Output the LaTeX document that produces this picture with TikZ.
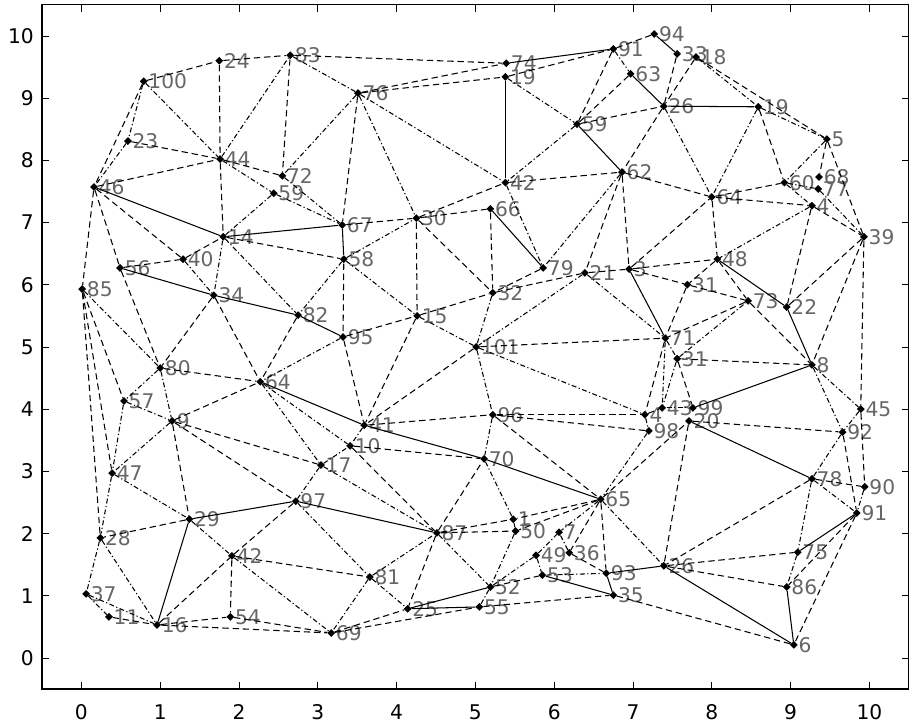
\documentclass[tikz,border=0pt]{standalone}
\usepackage{fontspec}
\setmainfont{DejaVu Sans}
\usetikzlibrary{shapes.geometric}
\newcommand{\lblfont}{\fontsize{11.5}{13}\selectfont}

\tikzset{
  pt/.style={diamond, fill=black, inner sep=0pt, minimum size=4.6pt, label distance=0.4pt},
  lbl/.style={text=black!60, inner sep=0pt, font=\lblfont},
  ticklbl/.style={inner sep=0pt, font=\lblfont},
  sol/.style={line width=0.6pt},
  dsh/.style={line width=0.6pt, dash pattern=on 3.6pt off 2.2pt},
  ddt/.style={line width=0.6pt, dash pattern=on 2.8pt off 1.4pt on 0.7pt off 1.4pt}
}

\begin{document}
\begin{tikzpicture}[x=1.576cm, y=1.244cm]

\useasboundingbox (-1.033,-1.047) rectangle (10.553,10.577);

% axes box and ticks
\draw[line width=0.7pt] (-0.5,-0.5) rectangle (10.5,10.5);
\foreach \i in {0,...,10} {
  \draw (\i,-0.5) -- ++(0pt,4pt);
  \draw (\i,10.5) -- ++(0pt,-4pt);
  \draw (-0.5,\i) -- ++(4pt,0pt);
  \draw (10.5,\i) -- ++(-4pt,0pt);
  \node[ticklbl, anchor=north] (xt\i) at ([yshift=-8.5pt]\i,-0.5) {\i};
  \node[ticklbl, anchor=east] (yt\i) at ([xshift=-4.5pt]-0.5,\i) {\i};
}

% sensor nodes
\node[pt, label={[lbl]0:100}] (n100) at (0.79,9.27) {};
\node[pt, label={[lbl]0:24}] (n24) at (1.75,9.60) {};
\node[pt, label={[lbl]0:83}] (n83) at (2.65,9.69) {};
\node[pt, label={[lbl]0:76}] (n76) at (3.51,9.08) {};
\node[pt, label={[lbl]0:74}] (n74) at (5.39,9.56) {};
\node[pt, label={[lbl]0:19}] (n19t) at (5.38,9.34) {};
\node[pt, label={[lbl]0:91}] (n91t) at (6.75,9.79) {};
\node[pt, label={[lbl]0:94}] (n94) at (7.27,10.03) {};
\node[pt, label={[lbl]0:33}] (n33) at (7.56,9.71) {};
\node[pt, label={[lbl]0:18}] (n18) at (7.80,9.66) {};
\node[pt, label={[lbl]0:63}] (n63) at (6.97,9.39) {};
\node[pt, label={[lbl]0:26}] (n26) at (7.39,8.87) {};
\node[pt, label={[lbl]0:59}] (n59) at (6.29,8.58) {};
\node[pt, label={[lbl]0:42}] (n42) at (5.38,7.64) {};
\node[pt, label={[lbl]0:62}] (n62) at (6.86,7.81) {};
\node[pt, label={[lbl]0:66}] (n66) at (5.19,7.22) {};
\node[pt, label={[lbl]0:19}] (n19) at (8.59,8.86) {};
\node[pt, label={[lbl]0:5}] (n5) at (9.46,8.34) {};
\node[pt, label={[lbl]0:60}] (n60) at (8.92,7.64) {};
\node[pt, label={[lbl]0:68}] (n68) at (9.36,7.73) {};
\node[pt, label={[lbl]0:77}] (n77) at (9.35,7.54) {};
\node[pt, label={[lbl]0:4}] (n4) at (9.27,7.27) {};
\node[pt, label={[lbl]0:39}] (n39) at (9.93,6.77) {};
\node[pt, label={[lbl]0:64}] (n64) at (8.00,7.41) {};
\node[pt, label={[lbl]0:46}] (n46) at (0.16,7.57) {};
\node[pt, label={[lbl]0:23}] (n23) at (0.59,8.31) {};
\node[pt, label={[lbl]0:44}] (n44) at (1.76,8.02) {};
\node[pt, label={[lbl]0:14}] (n14) at (1.80,6.77) {};
\node[pt, label={[lbl]0:72}] (n72) at (2.55,7.75) {};
\node[pt, label={[lbl]0:59}] (n59b) at (2.44,7.47) {};
\node[pt, label={[lbl]0:67}] (n67) at (3.31,6.96) {};
\node[pt, label={[lbl]0:30}] (n30) at (4.25,7.07) {};
\node[pt, label={[lbl]0:56}] (n56) at (0.49,6.27) {};
\node[pt, label={[lbl]0:40}] (n40) at (1.29,6.41) {};
\node[pt, label={[lbl]0:85}] (n85) at (0.01,5.93) {};
\node[pt, label={[lbl]0:34}] (n34) at (1.68,5.83) {};
\node[pt, label={[lbl]0:80}] (n80) at (1.00,4.66) {};
\node[pt, label={[lbl]0:57}] (n57) at (0.54,4.13) {};
\node[pt, label={[lbl]0:9}] (n9) at (1.15,3.81) {};
\node[pt, label={[lbl]0:64}] (n64b) at (2.27,4.44) {};
\node[pt, label={[lbl]0:58}] (n58) at (3.33,6.41) {};
\node[pt, label={[lbl]0:82}] (n82) at (2.75,5.51) {};
\node[pt, label={[lbl]0:95}] (n95) at (3.32,5.16) {};
\node[pt, label={[lbl]0:15}] (n15) at (4.26,5.50) {};
\node[pt, label={[lbl]0:41}] (n41) at (3.59,3.74) {};
\node[pt, label={[lbl]0:10}] (n10) at (3.41,3.41) {};
\node[pt, label={[lbl]0:17}] (n17) at (3.04,3.10) {};
\node[pt, label={[lbl]0:79}] (n79) at (5.86,6.27) {};
\node[pt, label={[lbl]0:21}] (n21) at (6.39,6.19) {};
\node[pt, label={[lbl]0:3}] (n3) at (6.95,6.25) {};
\node[pt, label={[lbl]0:32}] (n32) at (5.22,5.87) {};
\node[pt, label={[lbl]0:101}] (n101) at (5.01,5.00) {};
\node[pt, label={[lbl]0:71}] (n71) at (7.41,5.14) {};
\node[pt, label={[lbl]0:31}] (n31b) at (7.56,4.81) {};
\node[pt, label={[lbl]0:96}] (n96) at (5.22,3.91) {};
\node[pt, label={[lbl]0:4}] (n4b) at (7.15,3.91) {};
\node[pt, label={[lbl]0:43}] (n43) at (7.37,4.02) {};
\node[pt, label={[lbl]0:98}] (n98) at (7.20,3.65) {};
\node[pt, label={[lbl]0:70}] (n70) at (5.11,3.20) {};
\node[pt, label={[lbl]0:48}] (n48) at (8.07,6.41) {};
\node[pt, label={[lbl]0:31}] (n31) at (7.69,6.00) {};
\node[pt, label={[lbl]0:73}] (n73) at (8.46,5.74) {};
\node[pt, label={[lbl]0:22}] (n22) at (8.95,5.64) {};
\node[pt, label={[lbl]0:8}] (n8) at (9.27,4.71) {};
\node[pt, label={[lbl]0:45}] (n45) at (9.89,4.00) {};
\node[pt, label={[lbl]0:92}] (n92) at (9.66,3.63) {};
\node[pt, label={[lbl]0:99}] (n99) at (7.76,4.02) {};
\node[pt, label={[lbl]0:20}] (n20) at (7.71,3.81) {};
\node[pt, label={[lbl]0:47}] (n47) at (0.39,2.97) {};
\node[pt, label={[lbl]0:29}] (n29) at (1.37,2.23) {};
\node[pt, label={[lbl]0:28}] (n28) at (0.24,1.93) {};
\node[pt, label={[lbl]0:42}] (n42b) at (1.91,1.64) {};
\node[pt, label={[lbl]0:37}] (n37) at (0.06,1.03) {};
\node[pt, label={[lbl]0:11}] (n11) at (0.35,0.66) {};
\node[pt, label={[lbl]0:16}] (n16) at (0.96,0.53) {};
\node[pt, label={[lbl]0:54}] (n54) at (1.89,0.66) {};
\node[pt, label={[lbl]0:97}] (n97) at (2.72,2.52) {};
\node[pt, label={[lbl]0:87}] (n87) at (4.51,2.01) {};
\node[pt, label={[lbl]0:81}] (n81) at (3.66,1.30) {};
\node[pt, label={[lbl]0:69}] (n69) at (3.17,0.40) {};
\node[pt, label={[lbl]0:25}] (n25) at (4.14,0.79) {};
\node[pt, label={[lbl]0:55}] (n55) at (5.05,0.82) {};
\node[pt, label={[lbl]0:65}] (n65) at (6.59,2.55) {};
\node[pt, label={[lbl]0:1}] (n1) at (5.48,2.23) {};
\node[pt, label={[lbl]0:50}] (n50) at (5.51,2.04) {};
\node[pt, label={[lbl]0:7}] (n7) at (6.06,2.02) {};
\node[pt, label={[lbl]0:36}] (n36) at (6.19,1.69) {};
\node[pt, label={[lbl]0:49}] (n49) at (5.77,1.65) {};
\node[pt, label={[lbl]0:53}] (n53) at (5.85,1.33) {};
\node[pt, label={[lbl]0:52}] (n52) at (5.19,1.14) {};
\node[pt, label={[lbl]0:93}] (n93) at (6.66,1.36) {};
\node[pt, label={[lbl]0:35}] (n35) at (6.75,1.01) {};
\node[pt, label={[lbl]0:26}] (n26b) at (7.39,1.48) {};
\node[pt, label={[lbl]0:78}] (n78) at (9.27,2.88) {};
\node[pt, label={[lbl]0:90}] (n90) at (9.94,2.75) {};
\node[pt, label={[lbl]0:91}] (n91) at (9.84,2.33) {};
\node[pt, label={[lbl]0:75}] (n75) at (9.09,1.70) {};
\node[pt, label={[lbl]0:86}] (n86) at (8.95,1.14) {};
\node[pt, label={[lbl]0:6}] (n6) at (9.04,0.21) {};

% solid links
\draw[sol] (n46) -- (n14);  \draw[sol] (n14) -- (n67);  \draw[sol] (n67) -- (n58);
\draw[sol] (n19t) -- (n42); \draw[sol] (n94) -- (n33);  \draw[sol] (n63) -- (n26);
\draw[sol] (n26) -- (n19);  \draw[sol] (n59) -- (n62);  \draw[sol] (n66) -- (n79);
\draw[sol] (n74) -- (n91t); \draw[sol] (n56) -- (n34);  \draw[sol] (n34) -- (n82);
\draw[sol] (n82) -- (n95);  \draw[sol] (n64b) -- (n41); \draw[sol] (n41) -- (n70);
\draw[sol] (n70) -- (n65);  \draw[sol] (n29) -- (n97);  \draw[sol] (n97) -- (n87);
\draw[sol] (n29) -- (n16);  \draw[sol] (n25) -- (n52);  \draw[sol] (n25) -- (n55);
\draw[sol] (n53) -- (n35);  \draw[sol] (n93) -- (n35);  \draw[sol] (n93) -- (n26b);
\draw[sol] (n26b) -- (n6);  \draw[sol] (n86) -- (n6);   \draw[sol] (n99) -- (n8);
\draw[sol] (n22) -- (n8);   \draw[sol] (n48) -- (n22);  \draw[sol] (n20) -- (n78);
\draw[sol] (n3) -- (n71);   \draw[sol] (n91) -- (n75);

% dashed links
\draw[dsh] (n100) -- (n24); \draw[dsh] (n100) -- (n46); \draw[dsh] (n24) -- (n83);
\draw[dsh] (n24) -- (n44);  \draw[dsh] (n44) -- (n14);  \draw[dsh] (n23) -- (n44);
\draw[dsh] (n46) -- (n44);  \draw[dsh] (n46) -- (n85);  \draw[dsh] (n46) -- (n56);
\draw[dsh] (n46) -- (n40);  \draw[dsh] (n44) -- (n72);  \draw[dsh] (n83) -- (n72);
\draw[dsh] (n83) -- (n74);  \draw[dsh] (n76) -- (n74);  \draw[dsh] (n76) -- (n19t);
\draw[dsh] (n76) -- (n67);  \draw[dsh] (n67) -- (n30);  \draw[dsh] (n30) -- (n42);
\draw[dsh] (n30) -- (n66);  \draw[dsh] (n30) -- (n15);  \draw[dsh] (n30) -- (n32);
\draw[dsh] (n19t) -- (n91t); \draw[dsh] (n91t) -- (n94); \draw[dsh] (n91t) -- (n59);
\draw[dsh] (n63) -- (n59);  \draw[dsh] (n59) -- (n26);  \draw[dsh] (n42) -- (n62);
\draw[dsh] (n26) -- (n62);  \draw[dsh] (n62) -- (n64);  \draw[dsh] (n62) -- (n3);
\draw[dsh] (n62) -- (n21);  \draw[dsh] (n66) -- (n32);  \draw[dsh] (n33) -- (n26);
\draw[dsh] (n18) -- (n26);  \draw[dsh] (n18) -- (n5);   \draw[dsh] (n19) -- (n60);
\draw[dsh] (n64) -- (n60);  \draw[dsh] (n64) -- (n4);   \draw[dsh] (n5) -- (n68);
\draw[dsh] (n5) -- (n39);   \draw[dsh] (n4) -- (n39);   \draw[dsh] (n64) -- (n48);
\draw[dsh] (n4) -- (n22);   \draw[dsh] (n3) -- (n64);   \draw[dsh] (n14) -- (n58);
\draw[dsh] (n40) -- (n14);  \draw[dsh] (n56) -- (n40);  \draw[dsh] (n56) -- (n80);
\draw[dsh] (n34) -- (n80);  \draw[dsh] (n34) -- (n64b); \draw[dsh] (n80) -- (n64b);
\draw[dsh] (n85) -- (n57);  \draw[dsh] (n85) -- (n47);  \draw[dsh] (n85) -- (n28);
\draw[dsh] (n9) -- (n64b);  \draw[dsh] (n9) -- (n17);   \draw[dsh] (n9) -- (n97);
\draw[dsh] (n9) -- (n29);   \draw[dsh] (n82) -- (n64b); \draw[dsh] (n58) -- (n95);
\draw[dsh] (n95) -- (n15);  \draw[dsh] (n15) -- (n41);  \draw[dsh] (n15) -- (n32);
\draw[dsh] (n95) -- (n41);  \draw[dsh] (n10) -- (n70);  \draw[dsh] (n10) -- (n87);
\draw[dsh] (n41) -- (n96);  \draw[dsh] (n101) -- (n41); \draw[dsh] (n79) -- (n32);
\draw[dsh] (n32) -- (n21);  \draw[dsh] (n21) -- (n3);   \draw[dsh] (n3) -- (n31);
\draw[dsh] (n3) -- (n48);   \draw[dsh] (n31) -- (n71);  \draw[dsh] (n101) -- (n71);
\draw[dsh] (n71) -- (n4b);  \draw[dsh] (n96) -- (n4b);  \draw[dsh] (n96) -- (n98);
\draw[dsh] (n96) -- (n65);  \draw[dsh] (n48) -- (n73);  \draw[dsh] (n48) -- (n31);
\draw[dsh] (n31) -- (n73);  \draw[dsh] (n73) -- (n8);   \draw[dsh] (n73) -- (n71);
\draw[dsh] (n31b) -- (n8);  \draw[dsh] (n39) -- (n22);  \draw[dsh] (n39) -- (n8);
\draw[dsh] (n39) -- (n45);  \draw[dsh] (n20) -- (n92);  \draw[dsh] (n45) -- (n90);
\draw[dsh] (n92) -- (n91);  \draw[dsh] (n4b) -- (n43);  \draw[dsh] (n31b) -- (n99);
\draw[dsh] (n29) -- (n28);  \draw[dsh] (n11) -- (n16);  \draw[dsh] (n16) -- (n54);
\draw[dsh] (n16) -- (n69);  \draw[dsh] (n16) -- (n42b); \draw[dsh] (n42b) -- (n54);
\draw[dsh] (n54) -- (n69);  \draw[dsh] (n42b) -- (n97); \draw[dsh] (n42b) -- (n81);
\draw[dsh] (n87) -- (n25);  \draw[dsh] (n69) -- (n25);  \draw[dsh] (n69) -- (n55);
\draw[dsh] (n87) -- (n1);   \draw[dsh] (n87) -- (n50);  \draw[dsh] (n87) -- (n70);
\draw[dsh] (n65) -- (n1);   \draw[dsh] (n65) -- (n50);  \draw[dsh] (n65) -- (n36);
\draw[dsh] (n65) -- (n93);  \draw[dsh] (n65) -- (n20);  \draw[dsh] (n20) -- (n26b);
\draw[dsh] (n55) -- (n35);  \draw[dsh] (n52) -- (n53);  \draw[dsh] (n36) -- (n93);
\draw[dsh] (n78) -- (n90);  \draw[dsh] (n91) -- (n86);  \draw[dsh] (n91) -- (n6);
\draw[dsh] (n26b) -- (n75); \draw[dsh] (n26b) -- (n86); \draw[dsh] (n35) -- (n6);
\draw[dsh] (n78) -- (n26b);

% dash-dot links
\draw[ddt] (n100) -- (n23); \draw[ddt] (n23) -- (n46);  \draw[ddt] (n100) -- (n44);
\draw[ddt] (n44) -- (n83);  \draw[ddt] (n44) -- (n59b); \draw[ddt] (n83) -- (n76);
\draw[ddt] (n76) -- (n72);  \draw[ddt] (n76) -- (n30);  \draw[ddt] (n76) -- (n42);
\draw[ddt] (n72) -- (n67);  \draw[ddt] (n59b) -- (n67); \draw[ddt] (n14) -- (n59b);
\draw[ddt] (n58) -- (n30);  \draw[ddt] (n19t) -- (n59); \draw[ddt] (n91t) -- (n63);
\draw[ddt] (n59) -- (n42);  \draw[ddt] (n26) -- (n64);  \draw[ddt] (n42) -- (n79);
\draw[ddt] (n62) -- (n79);  \draw[ddt] (n18) -- (n19);  \draw[ddt] (n19) -- (n5);
\draw[ddt] (n19) -- (n64);  \draw[ddt] (n5) -- (n60);   \draw[ddt] (n60) -- (n77);
\draw[ddt] (n77) -- (n39);  \draw[ddt] (n60) -- (n4);   \draw[ddt] (n4) -- (n48);
\draw[ddt] (n85) -- (n80);  \draw[ddt] (n40) -- (n34);  \draw[ddt] (n14) -- (n34);
\draw[ddt] (n14) -- (n82);  \draw[ddt] (n80) -- (n9);   \draw[ddt] (n80) -- (n57);
\draw[ddt] (n57) -- (n9);   \draw[ddt] (n57) -- (n47);  \draw[ddt] (n9) -- (n47);
\draw[ddt] (n58) -- (n82);  \draw[ddt] (n58) -- (n15);  \draw[ddt] (n95) -- (n64b);
\draw[ddt] (n64b) -- (n10); \draw[ddt] (n64b) -- (n17); \draw[ddt] (n41) -- (n10);
\draw[ddt] (n17) -- (n10);  \draw[ddt] (n15) -- (n101); \draw[ddt] (n47) -- (n29);
\draw[ddt] (n47) -- (n28);  \draw[ddt] (n21) -- (n101); \draw[ddt] (n32) -- (n101);
\draw[ddt] (n21) -- (n71);  \draw[ddt] (n101) -- (n4b); \draw[ddt] (n101) -- (n96);
\draw[ddt] (n96) -- (n70);  \draw[ddt] (n71) -- (n43);  \draw[ddt] (n71) -- (n31b);
\draw[ddt] (n31b) -- (n43); \draw[ddt] (n31b) -- (n73); \draw[ddt] (n98) -- (n65);
\draw[ddt] (n4b) -- (n98);  \draw[ddt] (n43) -- (n99);  \draw[ddt] (n8) -- (n45);
\draw[ddt] (n8) -- (n92);   \draw[ddt] (n92) -- (n78);  \draw[ddt] (n45) -- (n92);
\draw[ddt] (n28) -- (n37);  \draw[ddt] (n28) -- (n16);  \draw[ddt] (n37) -- (n11);
\draw[ddt] (n37) -- (n16);  \draw[ddt] (n29) -- (n42b); \draw[ddt] (n17) -- (n87);
\draw[ddt] (n17) -- (n97);  \draw[ddt] (n97) -- (n81);  \draw[ddt] (n81) -- (n69);
\draw[ddt] (n81) -- (n87);  \draw[ddt] (n81) -- (n25);  \draw[ddt] (n42b) -- (n69);
\draw[ddt] (n70) -- (n1);   \draw[ddt] (n65) -- (n7);   \draw[ddt] (n65) -- (n26b);
\draw[ddt] (n50) -- (n52);  \draw[ddt] (n49) -- (n52);  \draw[ddt] (n49) -- (n53);
\draw[ddt] (n49) -- (n7);   \draw[ddt] (n36) -- (n7);   \draw[ddt] (n53) -- (n93);
\draw[ddt] (n1) -- (n50);   \draw[ddt] (n87) -- (n52);  \draw[ddt] (n52) -- (n55);
\draw[ddt] (n78) -- (n91);  \draw[ddt] (n78) -- (n75);  \draw[ddt] (n75) -- (n86);
\draw[ddt] (n90) -- (n91);

\end{tikzpicture}
\end{document}
